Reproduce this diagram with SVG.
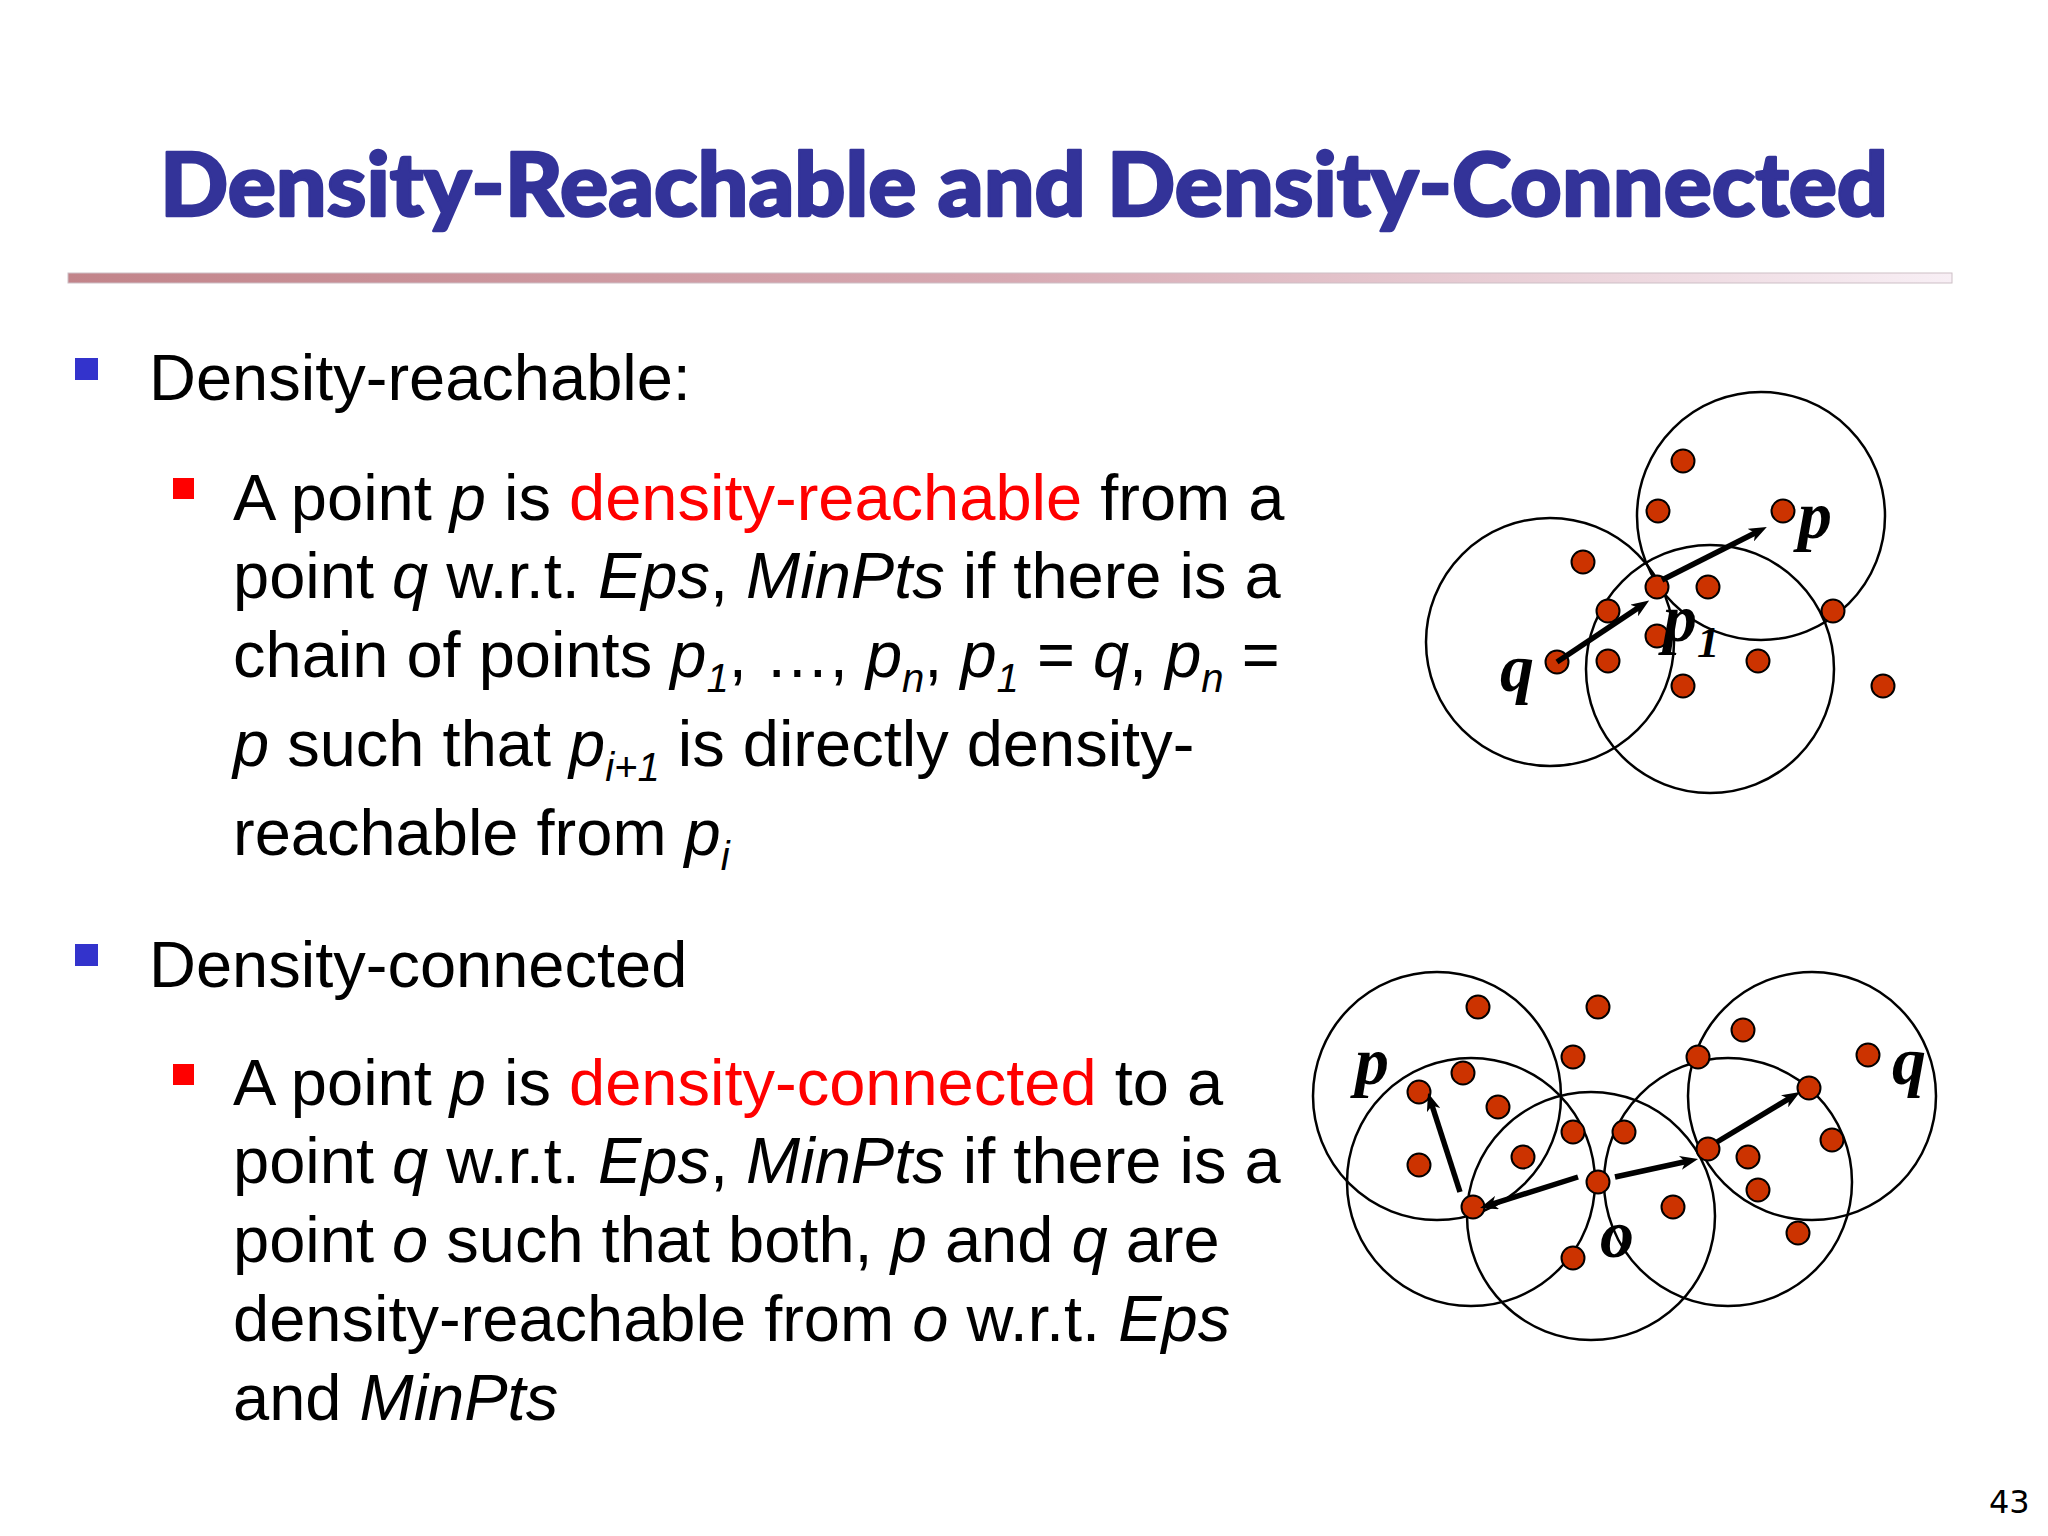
<svg xmlns="http://www.w3.org/2000/svg" width="2048" height="1536" viewBox="0 0 2048 1536">
<defs>
<linearGradient id="barGrad" x1="0" y1="0" x2="1" y2="0">
<stop offset="0" stop-color="#c2848a"/>
<stop offset="0.5" stop-color="#d7a9b2"/>
<stop offset="1" stop-color="#f8eff5"/>
</linearGradient>
<marker id="arrow" viewBox="0 0 18 14" refX="7" refY="7" markerWidth="18" markerHeight="14" markerUnits="userSpaceOnUse" orient="auto">
<path d="M0,0 L18,7 L0,14 L5,7 z" fill="#000"/>
</marker>
<style>
.title{font-family:Lato,"Open Sans","DejaVu Sans",sans-serif;font-weight:900;font-size:88px;fill:#333399;stroke:#333399;stroke-width:2.5;stroke-linejoin:round}
.body{font-family:"Liberation Sans",Arial,sans-serif;font-size:65px;fill:#000}
.it{font-style:italic}
.sub{font-style:italic;font-size:40px}
.red{fill:#ff0000}
.lbl{font-family:"Liberation Serif","Times New Roman",serif;font-weight:bold;font-style:italic;font-size:68px;fill:#000}
.lblsub{font-size:45px}
.ring{fill:none;stroke:#000;stroke-width:2.5}
.dot{fill:#cc3300;stroke:#000;stroke-width:2}
.arr{fill:none;stroke:#000;stroke-width:5.5;marker-end:url(#arrow)}
.pg{font-family:"DejaVu Sans",Verdana,sans-serif;font-size:32px;fill:#000}
</style>
</defs>
<rect width="2048" height="1536" fill="#fff"/>

<g id="title">
<text class="title" x="160" y="216" textLength="1728" lengthAdjust="spacingAndGlyphs">Density-Reachable and Density-Connected</text>
<rect x="68" y="273" width="1884" height="10" fill="url(#barGrad)" stroke="#cdbfc6" stroke-width="1"/>
</g>

<g id="bullet-reachable">
<rect x="75" y="358" width="23" height="22" fill="#3333cc"/>
<text class="body" x="149" y="400">Density-reachable:</text>
<rect x="173" y="478" width="21" height="21" fill="#ff0000"/>
<text class="body" x="233" y="520">A point <tspan class="it">p</tspan> is <tspan class="red">density-reachable</tspan> from a</text>
<text class="body" x="233" y="598">point <tspan class="it">q</tspan> w.r.t. <tspan class="it">Eps</tspan>, <tspan class="it">MinPts</tspan> if there is a</text>
<text class="body" x="233" y="677">chain of points <tspan class="it">p</tspan><tspan class="sub" dy="15">1</tspan><tspan dy="-15">, …, </tspan><tspan class="it">p</tspan><tspan class="sub" dy="15">n</tspan><tspan dy="-15">, </tspan><tspan class="it">p</tspan><tspan class="sub" dy="15">1</tspan><tspan dy="-15"> = </tspan><tspan class="it">q</tspan>, <tspan class="it">p</tspan><tspan class="sub" dy="15">n</tspan><tspan dy="-15"> =</tspan></text>
<text class="body" x="233" y="766"><tspan class="it">p</tspan> such that <tspan class="it">p</tspan><tspan class="sub" dy="15">i+1</tspan><tspan dy="-15"> is directly density-</tspan></text>
<text class="body" x="233" y="855">reachable from <tspan class="it">p</tspan><tspan class="sub" dy="15">i</tspan></text>
</g>

<g id="bullet-connected">
<rect x="75" y="944" width="23" height="22" fill="#3333cc"/>
<text class="body" x="149" y="987">Density-connected</text>
<rect x="173" y="1064" width="21" height="21" fill="#ff0000"/>
<text class="body" x="233" y="1105">A point <tspan class="it">p</tspan> is <tspan class="red">density-connected</tspan> to a</text>
<text class="body" x="233" y="1183">point <tspan class="it">q</tspan> w.r.t. <tspan class="it">Eps</tspan>, <tspan class="it">MinPts</tspan> if there is a</text>
<text class="body" x="233" y="1262">point <tspan class="it">o</tspan> such that both, <tspan class="it">p</tspan> and <tspan class="it">q</tspan> are</text>
<text class="body" x="233" y="1341">density-reachable from <tspan class="it">o</tspan> w.r.t. <tspan class="it">Eps</tspan></text>
<text class="body" x="233" y="1420">and <tspan class="it">MinPts</tspan></text>
</g>

<g id="diagram-reachable">
<g id="neighborhoods-top">
<circle class="ring" cx="1550" cy="642" r="124"/>
<circle class="ring" cx="1710" cy="669" r="124"/>
<circle class="ring" cx="1761" cy="516" r="124"/>
</g>
<g id="points-top">
<circle class="dot" cx="1683" cy="461" r="11.5"/>
<circle class="dot" cx="1658" cy="511" r="11.5"/>
<circle class="dot" cx="1583" cy="562" r="11.5"/>
<circle class="dot" cx="1708" cy="587" r="11.5"/>
<circle class="dot" cx="1608" cy="611" r="11.5"/>
<circle class="dot" cx="1833" cy="611" r="11.5"/>
<circle class="dot" cx="1657" cy="636" r="11.5"/>
<circle class="dot" cx="1608" cy="661" r="11.5"/>
<circle class="dot" cx="1758" cy="661" r="11.5"/>
<circle class="dot" cx="1683" cy="686" r="11.5"/>
<circle class="dot" cx="1883" cy="686" r="11.5"/>
</g>
<g id="node-top-q"><circle class="dot" cx="1557" cy="662" r="11.5"/><text class="lbl" x="1500" y="691">q</text></g>
<g id="node-top-p1"><circle class="dot" cx="1657" cy="587" r="11.5"/><text class="lbl" x="1663" y="641">p<tspan class="lblsub" dy="16">1</tspan></text></g>
<g id="node-top-p"><circle class="dot" cx="1783" cy="511" r="11.5"/><text class="lbl" x="1798" y="538">p</text></g>
</g>

<g id="diagram-connected">
<g id="neighborhoods-bottom">
<circle class="ring" cx="1437" cy="1096" r="124"/>
<circle class="ring" cx="1471" cy="1182" r="124"/>
<circle class="ring" cx="1591" cy="1216" r="124"/>
<circle class="ring" cx="1728" cy="1182" r="124"/>
<circle class="ring" cx="1812" cy="1096" r="124"/>
</g>
<g id="points-bottom">
<circle class="dot" cx="1478" cy="1007" r="11.5"/>
<circle class="dot" cx="1598" cy="1007" r="11.5"/>
<circle class="dot" cx="1573" cy="1057" r="11.5"/>
<circle class="dot" cx="1463" cy="1073" r="11.5"/>
<circle class="dot" cx="1498" cy="1107" r="11.5"/>
<circle class="dot" cx="1573" cy="1132" r="11.5"/>
<circle class="dot" cx="1624" cy="1132" r="11.5"/>
<circle class="dot" cx="1523" cy="1157" r="11.5"/>
<circle class="dot" cx="1419" cy="1165" r="11.5"/>
<circle class="dot" cx="1473" cy="1207" r="11.5"/>
<circle class="dot" cx="1573" cy="1258" r="11.5"/>
<circle class="dot" cx="1743" cy="1030" r="11.5"/>
<circle class="dot" cx="1698" cy="1057" r="11.5"/>
<circle class="dot" cx="1868" cy="1055" r="11.5"/>
<circle class="dot" cx="1832" cy="1140" r="11.5"/>
<circle class="dot" cx="1708" cy="1149" r="11.5"/>
<circle class="dot" cx="1748" cy="1157" r="11.5"/>
<circle class="dot" cx="1758" cy="1190" r="11.5"/>
<circle class="dot" cx="1673" cy="1207" r="11.5"/>
<circle class="dot" cx="1798" cy="1233" r="11.5"/>
</g>
<g id="node-bottom-p"><circle class="dot" cx="1419" cy="1092" r="11.5"/><text class="lbl" x="1355" y="1084">p</text></g>
<g id="node-bottom-o"><circle class="dot" cx="1598" cy="1182" r="11.5"/><text class="lbl" x="1600" y="1257">o</text></g>
<g id="node-bottom-q"><circle class="dot" cx="1809" cy="1088" r="11.5"/><text class="lbl" x="1892" y="1084">q</text></g>
</g>

<g id="connectors">
<path class="arr" d="M1557,662 L1640,606.6"/>
<path class="arr" d="M1662,580 L1757,532"/>
<path class="arr" d="M1460,1192 L1431.4,1103.5"/>
<path class="arr" d="M1578,1177 L1490.5,1204.7"/>
<path class="arr" d="M1615,1177 L1687.3,1161.3"/>
<path class="arr" d="M1717,1142 L1790.6,1097.7"/>
</g>

<text class="pg" x="1989" y="1513">43</text>
</svg>
